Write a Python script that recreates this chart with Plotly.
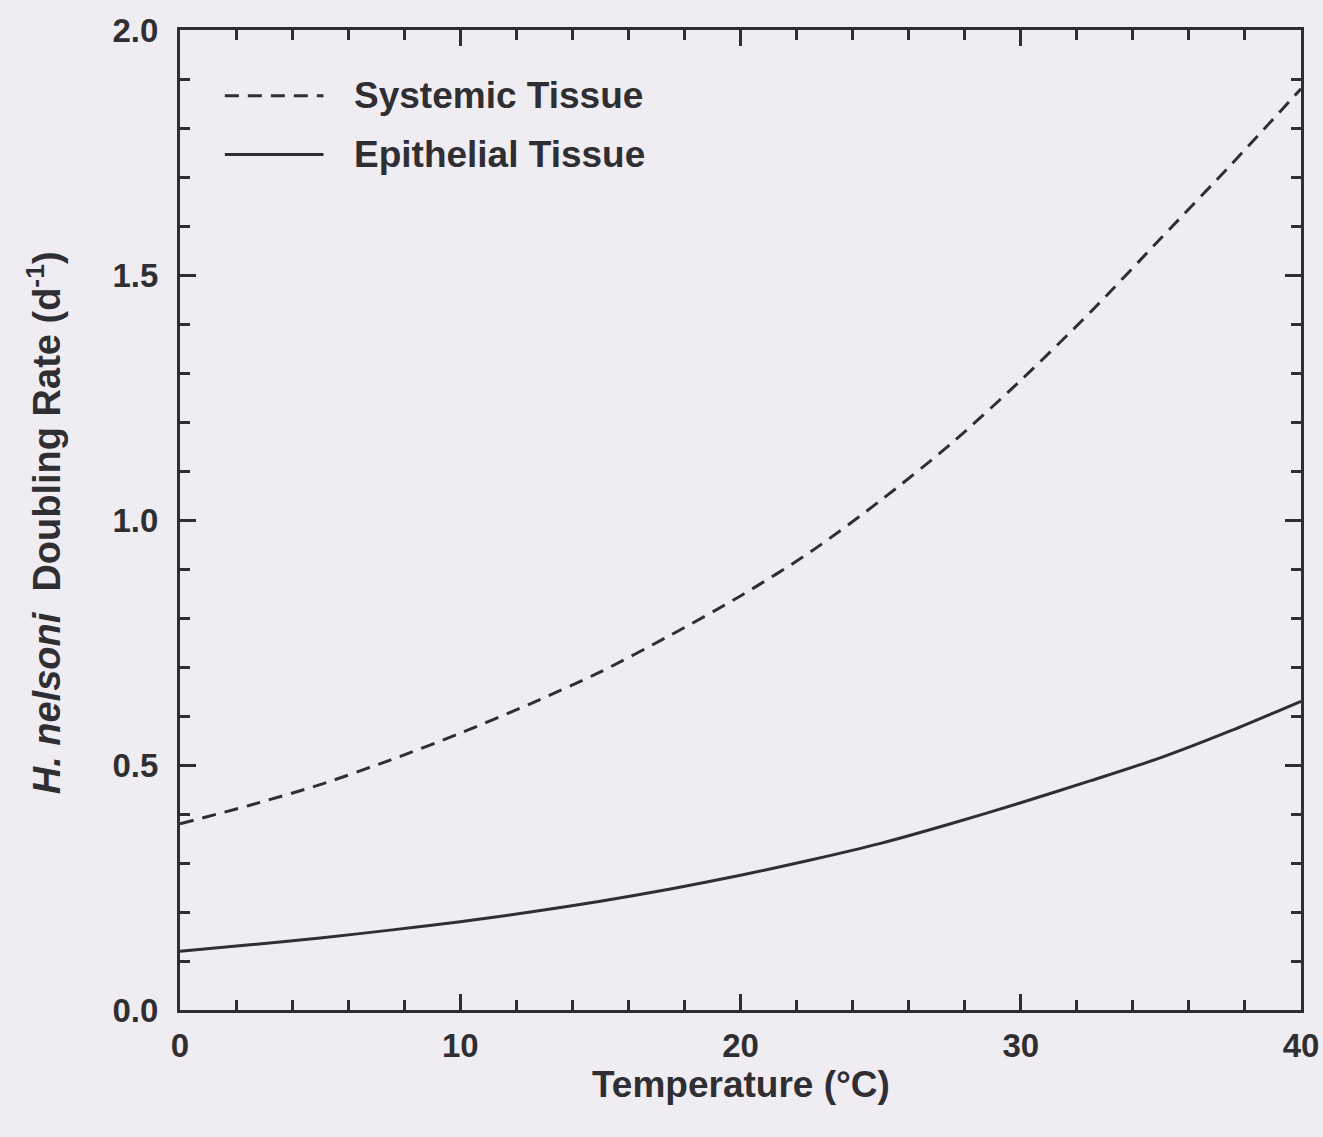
import plotly.graph_objects as go

# Doubling rate of H. nelsoni versus temperature
temperature_c = [0, 2.5, 5, 7.5, 10, 12.5, 15, 17.5, 20, 22.5, 25, 27.5, 30, 32.5, 35, 37.5, 40]
systemic_rate = [0.38, 0.418, 0.46, 0.51, 0.565, 0.625, 0.69, 0.765, 0.845, 0.935,
                 1.04, 1.155, 1.285, 1.425, 1.575, 1.725, 1.88]
epithelial_rate = [0.12, 0.133, 0.147, 0.163, 0.18, 0.2, 0.222, 0.247, 0.275, 0.306,
                   0.34, 0.38, 0.423, 0.468, 0.515, 0.57, 0.63]

x_ticks = [0, 10, 20, 30, 40]
y_ticks = [0.0, 0.5, 1.0, 1.5, 2.0]
series_names = ["Systemic Tissue", "Epithelial Tissue"]

INK = "#2f2f33"
BG = "#efedf2"
FONT = "Liberation Sans, Arial, sans-serif"
DASH = "14px,9px"

fig = go.Figure()
fig.add_trace(go.Scatter(
    x=temperature_c, y=systemic_rate, mode="lines", name=series_names[0],
    line=dict(color=INK, width=3, dash=DASH, shape="spline", smoothing=0.8),
    showlegend=False,
))
fig.add_trace(go.Scatter(
    x=temperature_c, y=epithelial_rate, mode="lines", name=series_names[1],
    line=dict(color=INK, width=3, shape="spline", smoothing=0.8),
    showlegend=False,
))

axis_common = dict(
    showline=True, linecolor=INK, linewidth=3, mirror="ticks",
    ticks="inside", tickcolor=INK, tickwidth=2.5, ticklen=16,
    showgrid=False, zeroline=False, automargin=False,
    ticklabeloverflow="allow",
    tickfont=dict(family=FONT, size=33, color=INK, weight="bold"),
)

fig.update_xaxes(
    range=[0, 40], tickvals=x_ticks, ticklabelstandoff=4,
    minor=dict(dtick=2, ticks="inside", ticklen=10, tickwidth=2.5, tickcolor=INK, showgrid=False),
    **axis_common,
)
fig.update_yaxes(
    range=[0, 2], tickvals=y_ticks, tickformat=".1f", ticklabelstandoff=12,
    minor=dict(dtick=0.1, ticks="inside", ticklen=10, tickwidth=2.5, tickcolor=INK, showgrid=False),
    **axis_common,
)

# Hand-drawn legend: long line samples with labels
legend_rows = [(0.933, DASH), (0.873, "solid")]
for (ypos, dash), label in zip(legend_rows, series_names):
    fig.add_shape(type="line", xref="paper", yref="paper",
                  x0=0.040, x1=0.128, y0=ypos, y1=ypos,
                  line=dict(color=INK, width=3, dash=dash))
    fig.add_annotation(xref="paper", yref="paper", x=0.153, y=ypos,
                       text=label, showarrow=False, xanchor="left", yanchor="middle",
                       font=dict(family=FONT, size=37, color=INK, weight="bold"))

# Axis titles
fig.add_annotation(xref="paper", yref="paper", x=0.5, y=-0.076,
                   text="Temperature (°C)", showarrow=False,
                   xanchor="center", yanchor="middle",
                   font=dict(family=FONT, size=37, color=INK, weight="bold"))
fig.add_annotation(xref="paper", yref="paper", x=-0.121, y=0.497,
                   text="<i>H. nelsoni</i>  Doubling Rate (d<sup>-1</sup>)",
                   showarrow=False, textangle=-90,
                   xanchor="center", yanchor="middle",
                   font=dict(family=FONT, size=38, color=INK, weight="bold"))

fig.update_layout(
    width=1323, height=1137,
    margin=dict(l=180, r=22, t=30, b=127),
    paper_bgcolor=BG, plot_bgcolor=BG,
    showlegend=False,
)

fig.write_html("out.html")
